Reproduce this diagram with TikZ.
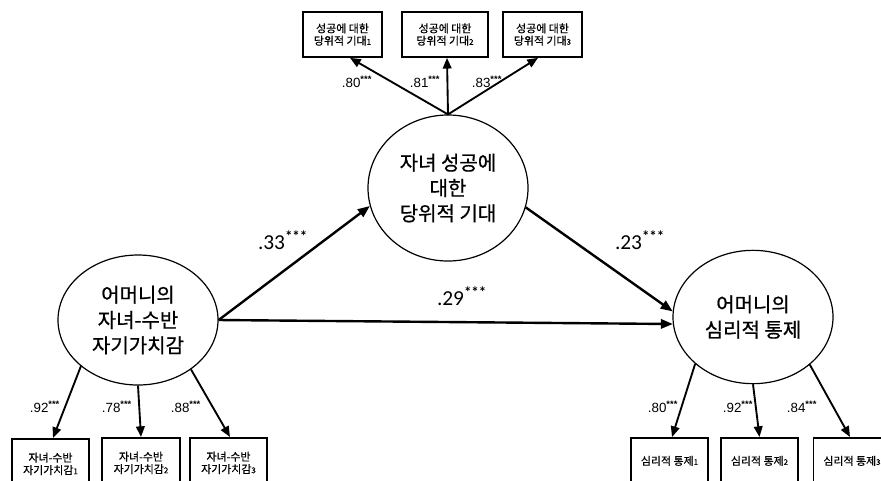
\documentclass[tikz,border=0pt]{standalone}
\usepackage{fontspec}
\setmainfont{Carlito}
\newfontfamily\kr{Noto Sans CJK KR}
\newfontfamily\krb{Noto Sans CJK KR}[FakeBold=0.7]
\newfontfamily\lab{Liberation Sans}
\usetikzlibrary{arrows.meta,shapes.geometric,calc}
\newcommand{\sub}[1]{{\fontsize{6}{5}\selectfont #1}}
\newcommand{\stars}{\textsuperscript{\textbf{***}}}
\begin{document}
\begin{tikzpicture}[x=0.75pt,y=-0.75pt,
 latent/.style={ellipse,draw,line width=0.9pt,inner sep=0pt,align=center,
   font=\krb\fontsize{15}{19}\selectfont},
 obs/.style={draw,line width=1.3pt,inner sep=0pt,align=center,
   font=\krb\fontsize{8.2}{9.3}\selectfont},
 pathar/.style={line width=1.8pt,-{Triangle[length=9pt,width=7pt]}},
 loadar/.style={line width=1.4pt,-{Triangle[length=8pt,width=6.5pt]}},
 biglab/.style={font=\fontsize{16}{16}\selectfont},
 smalllab/.style={font=\lab\fontsize{10}{10}\selectfont}]
\useasboundingbox (0,0) rectangle (881,480);
\fill[white] (0,0) rectangle (881,480);

% latent variables
\node[latent,minimum width=120pt,minimum height=97.5pt] (L) at (138,320) {어머니의\\자녀-수반\\자기가치감};
\node[latent,minimum width=120pt,minimum height=109.5pt] (T) at (448,188) {자녀 성공에\\대한\\당위적 기대};
\node[latent,minimum width=120pt,minimum height=100pt] (R) at (753,317) {어머니의\\심리적 통제};

% top indicators
\node[obs,minimum width=59.25pt,minimum height=33.75pt] (T1) at (342.5,34.5) {성공에 대한\\당위적 기대\sub{1}};
\node[obs,minimum width=64.5pt,minimum height=33.75pt] (T2) at (445,34.5) {성공에 대한\\당위적 기대\sub{2}};
\node[obs,minimum width=59.25pt,minimum height=33.75pt] (T3) at (542.5,34.5) {성공에 대한\\당위적 기대\sub{3}};

% bottom-left indicators
\node[obs,anchor=north,minimum width=57.75pt,minimum height=37.5pt] (L1) at (50.5,438) {자녀-수반\\자기가치감\sub{1}};
\node[obs,anchor=north,minimum width=58.5pt,minimum height=37.5pt] (L2) at (141,437) {자녀-수반\\자기가치감\sub{2}};
\node[obs,anchor=north,minimum width=57.75pt,minimum height=37.5pt] (L3) at (228.5,437) {자녀-수반\\자기가치감\sub{3}};

% bottom-right indicators
\node[obs,anchor=north,minimum width=57.75pt,minimum height=34.5pt] (R1) at (669.5,437) {심리적 통제\sub{1}};
\node[obs,anchor=north,minimum width=57.75pt,minimum height=34.5pt] (R2) at (759.5,437) {심리적 통제\sub{2}};
\node[obs,anchor=north,minimum width=57.75pt,minimum height=34.5pt] (R3) at (852,437) {심리적 통제\sub{3}};

% structural paths
\draw[pathar] (L.east) -- (T.193);
\draw[pathar] (L.east) -- (R.185);
\draw[pathar] (T.-14) -- (R.176);

\node[biglab] (p33) at (283,240) {.33\stars};
\node[biglab] (p29) at (462,296) {.29\stars};
\node[biglab] (p23) at (640,240) {.23\stars};

% loadings top
\draw[loadar] (T.north) -- ($(T1.south)+(7.5,0)$);
\draw[loadar] (T.north) -- ($(T2.south)+(2,0)$);
\draw[loadar] (T.north) -- ($(T3.south)+(-4.5,0)$);
\node[smalllab] (a1) at (357,82) {.80\stars};
\node[smalllab] (a2) at (425,82) {.81\stars};
\node[smalllab] (a3) at (487,82) {.83\stars};

% loadings left
\draw[loadar] (L.219) -- ($(L1.north)+(2.5,0)$);
\draw[loadar] (L.south) -- (L2.north);
\draw[loadar] (L.-43) -- ($(L3.north)+(1.5,0)$);
\node[smalllab] (b1) at (45,407) {.92\stars};
\node[smalllab] (b2) at (117,407) {.78\stars};
\node[smalllab] (b3) at (186,407) {.88\stars};

% loadings right
\draw[loadar] (R.219) -- ($(R1.north)+(2.5,0)$);
\draw[loadar] (R.south) -- (R2.north);
\draw[loadar] (R.-40) -- ($(R3.north)+(-2,0)$);
\node[smalllab] (c1) at (663,407) {.80\stars};
\node[smalllab] (c2) at (738,407) {.92\stars};
\node[smalllab] (c3) at (802,407) {.84\stars};
\end{tikzpicture}
\end{document}
